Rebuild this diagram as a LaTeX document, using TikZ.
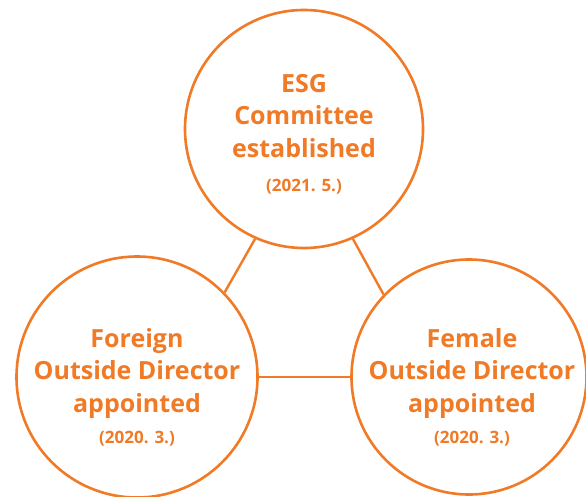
\documentclass[tikz,border=0pt]{standalone}
\usepackage{fontspec}
\setmainfont{Open Sans}
\definecolor{esgorange}{RGB}{240,122,38}
\begin{document}
\begin{tikzpicture}[x=1pt,y=-1pt,
  ring/.style={circle,draw=esgorange,line width=2.6pt,inner sep=0pt,fill=white},
  link/.style={draw=esgorange,line width=2.4pt},
  title/.style={text=esgorange,font=\bfseries\fontsize{25}{32.5}\selectfont,align=center,anchor=base},
  datetxt/.style={text=esgorange,font=\bfseries\fontsize{17}{18}\selectfont,anchor=base}]
\useasboundingbox (0,0) rectangle (586,496);
% circles
\node[ring,minimum size=238pt] (esg) at (304,129) {};
\node[ring,minimum size=241pt] (foreign) at (137,377) {};
\node[ring,minimum size=235pt] (female) at (469,377) {};
% connectors
\draw[link] (esg.246) -- (foreign.44);
\draw[link] (esg.294) -- (female.136);
\draw[link] (foreign.0) -- (female.180);
% texts
\node[title] (t1) at (304,157) {ESG\\Committee\\established};
\node[datetxt] (d1) at (304,191) {(2021. 5.)};
\node[title] (t2) at (137,412) {Foreign\\Outside Director\\appointed};
\node[datetxt] (d2) at (137,443) {(2020. 3.)};
\node[title] (t3) at (472,412) {Female\\Outside Director\\appointed};
\node[datetxt] (d3) at (472,443) {(2020. 3.)};
\end{tikzpicture}
\end{document}
